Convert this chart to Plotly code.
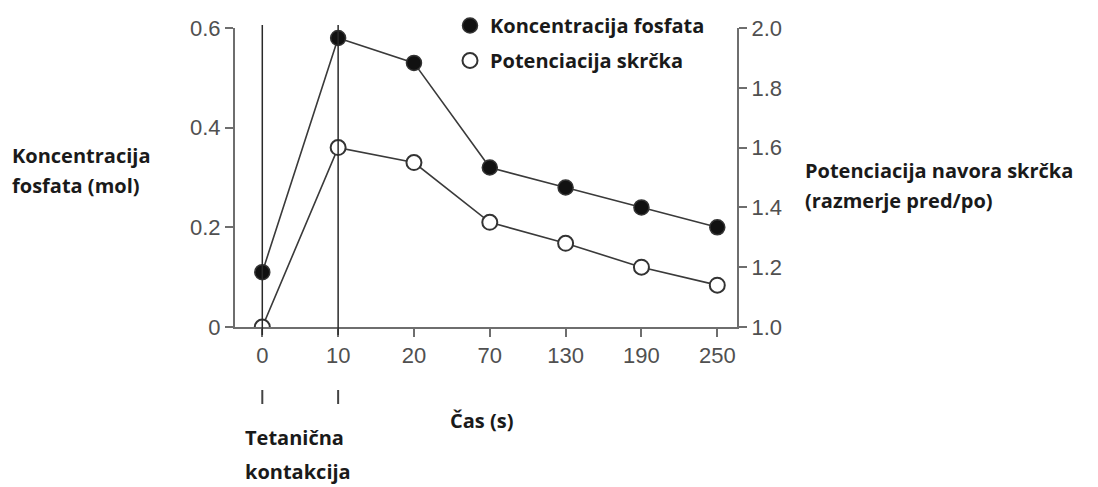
import plotly.graph_objects as go

# Time points (s) shown as evenly spaced categories
time_labels = ["0", "10", "20", "70", "130", "190", "250"]
# Phosphate concentration (mol), left axis
phosphate = [0.11, 0.58, 0.53, 0.32, 0.28, 0.24, 0.20]
# Twitch torque potentiation (pre/post ratio), right axis
potentiation = [1.00, 1.60, 1.55, 1.35, 1.28, 1.20, 1.14]

left_ticks = [0, 0.2, 0.4, 0.6]
left_ticktext = ["0", "0.2", "0.4", "0.6"]
right_ticks = [1.0, 1.2, 1.4, 1.6, 1.8, 2.0]
right_ticktext = ["1.0", "1.2", "1.4", "1.6", "1.8", "2.0"]

W, H = 1098, 487
L, R, T, B = 235, 361, 28, 160
PW, PH = W - L - R, H - T - B


def px(x):
    return (x - L) / PW


def py(y):
    return (H - B - y) / PH


AXIS_GRAY = "#6e6e6e"
LINE_DARK = "#3a3a3a"
TITLE_FONT = dict(family="Open Sans", size=20, color="#1a1a1a")

fig = go.Figure()

fig.add_trace(go.Scatter(
    x=time_labels, y=phosphate, mode="lines+markers", showlegend=False,
    line=dict(color=LINE_DARK, width=1.6),
    marker=dict(size=15, color="#111111", line=dict(color="#333333", width=1.5)),
    yaxis="y",
))
fig.add_trace(go.Scatter(
    x=time_labels, y=potentiation, mode="lines+markers", showlegend=False,
    line=dict(color=LINE_DARK, width=1.6),
    marker=dict(size=15, color="white", line=dict(color="#333333", width=2)),
    yaxis="y2",
))

# legend-only entries (marker glyph without the connecting line)
fig.add_trace(go.Scatter(
    x=[None], y=[None], mode="markers", name="<b>Koncentracija fosfata</b>",
    legendgroup="a",
    marker=dict(size=15, color="#111111", line=dict(color="#333333", width=1.5)),
))
fig.add_trace(go.Scatter(
    x=[None], y=[None], mode="markers", name="<b>Potenciacija skrčka</b>",
    legendgroup="b",
    marker=dict(size=15, color="white", line=dict(color="#333333", width=2)),
))

tick_font = dict(family="Liberation Sans", size=22, color="#505050")
axis_style = dict(
    showline=True, linecolor=AXIS_GRAY, linewidth=2,
    ticks="outside", ticklen=8, tickwidth=2, tickcolor=AXIS_GRAY,
    tickfont=tick_font, showgrid=False, zeroline=False, automargin=False,
)

fig.update_layout(
    width=W, height=H,
    margin=dict(l=L, r=R, t=T, b=B, autoexpand=False),
    paper_bgcolor="white", plot_bgcolor="white",
    showlegend=True,
    legend=dict(
        xref="container", yref="container",
        x=450 / W, y=1.0 - 6 / H, xanchor="left", yanchor="top",
        font=TITLE_FONT, bgcolor="rgba(0,0,0,0)",
        tracegroupgap=6, itemwidth=30,
    ),
    xaxis=dict(type="category", range=[-0.36, 6.26], **axis_style),
    yaxis=dict(range=[0, 0.6], tickvals=left_ticks, ticktext=left_ticktext,
               **axis_style),
    yaxis2=dict(range=[1.0, 2.0], tickvals=right_ticks, ticktext=right_ticktext,
                overlaying="y", side="right", **axis_style),
)

# vertical markers at the start and end of the tetanic contraction
for cat in ["0", "10"]:
    idx = time_labels.index(cat)
    fig.add_shape(type="line", xref="x", yref="paper", x0=idx, x1=idx,
                  y0=py(335), y1=py(25), line=dict(color="#2a2a2a", width=1.5))
    fig.add_shape(type="line", xref="x", yref="paper", x0=idx, x1=idx,
                  y0=py(404), y1=py(390), line=dict(color="#444444", width=2))


def label(text, x, y):
    fig.add_annotation(xref="paper", yref="paper", x=px(x), y=py(y),
                       xanchor="left", yanchor="middle", showarrow=False,
                       text="<b>" + text + "</b>", font=TITLE_FONT)


label("Koncentracija", 10, 155)
label("fosfata (mol)", 10, 185)
label("Potenciacija navora skrčka", 803, 170)
label("(razmerje pred/po)", 803, 200)
label("Čas (s)", 448, 420)
label("Tetanična", 243, 437)
label("kontakcija", 243, 471)

fig.write_html("out.html")
